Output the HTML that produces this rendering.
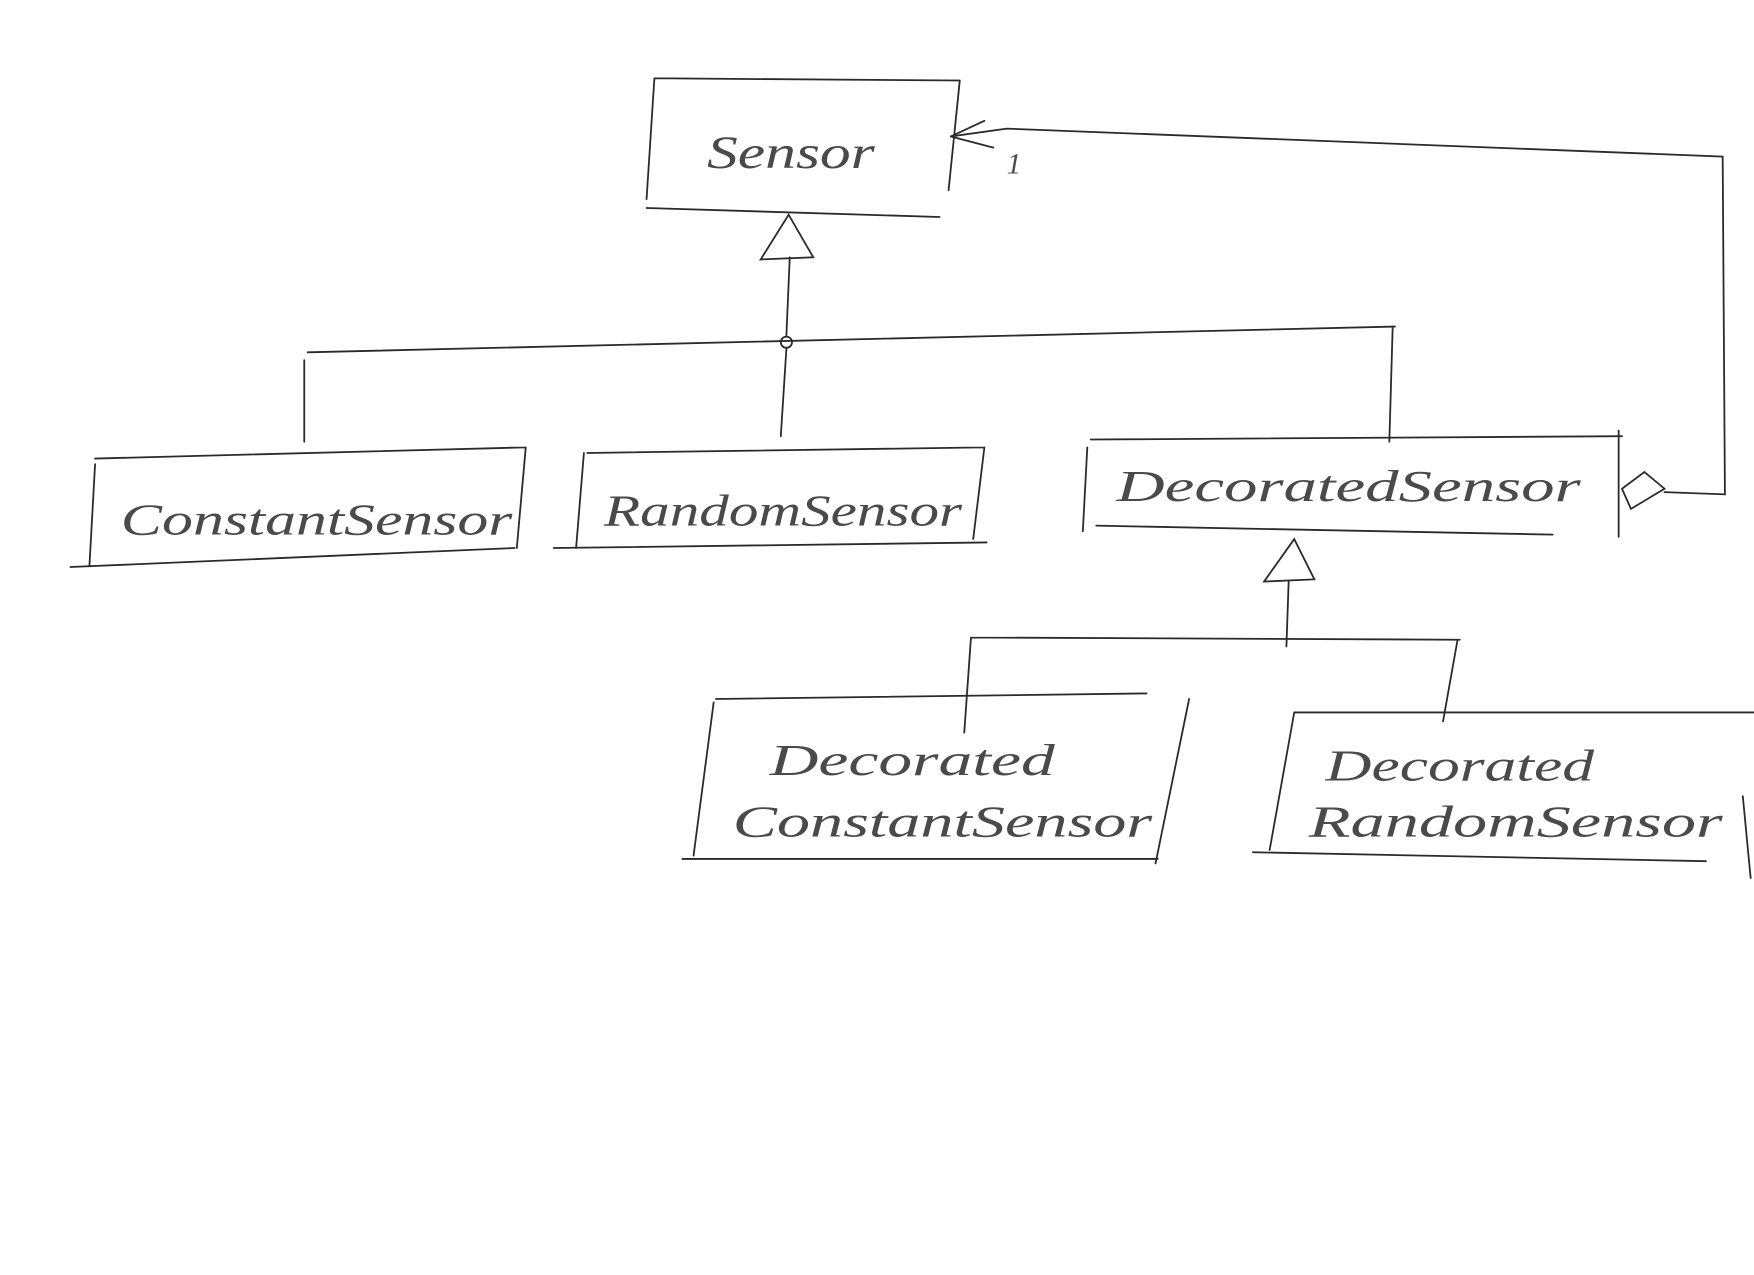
<!DOCTYPE html>
<html><head><meta charset="utf-8"><style>
html,body{margin:0;padding:0;background:#fff;}
svg{display:block}
text{font-family:"Liberation Serif",serif;font-style:italic;fill:#4a4a4a;}
</style></head><body>
<svg width="1754" height="1275" viewBox="0 0 1568 1140" preserveAspectRatio="none" xmlns="http://www.w3.org/2000/svg">
<g fill="none" stroke="#2a2a2a" stroke-width="1.6" stroke-linecap="round">
<path d="M585 70 L858 72 M585 70 L578 178 M578 186 L840 194 M858 72 L848 170"/>
<path d="M705 192 L680 232 L727 230 Z"/>
<path d="M706 230 L703 300"/>
<circle cx="703" cy="306" r="5"/>
<path d="M275 315 L1247 292 M272 322 L272 395 M703 312 L698 390 M1245 292 L1242 395"/>
<path d="M85 410 L470 400 M85 415 L80 505 M63 507 L460 490 M470 400 L462 490"/>
<path d="M525 405 L880 400 M522 405 L515 490 M495 490 L882 485 M880 400 L870 482"/>
<path d="M975 393 L1450 390 M972 400 L968 475 M980 470 L1388 478 M1447 385 L1447 480"/>
<path d="M1450 437 L1470 422 L1488 437 L1458 455 Z"/>
<path d="M1488 440 L1542 442 L1540 140 L900 115 L850 122"/>
<path d="M850 122 L880 108 M850 122 L888 132"/>
<path d="M1157 482 L1130 520 L1175 518 Z"/>
<path d="M1152 520 L1150 578 M868 570 L1305 572 M868 570 L862 655 M1303 572 L1290 645"/>
<path d="M640 625 L1025 620 M638 628 L620 765 M610 768 L1035 768 M1063 625 L1033 772"/>
<path d="M1157 637 L1568 637 M1157 637 L1135 760 M1120 762 L1525 770 M1558 712 L1565 785"/>
</g>
<text x="632" y="150" font-size="42" textLength="150" lengthAdjust="spacingAndGlyphs">Sensor</text>
<text x="900" y="155" font-size="26">1</text>
<text x="108" y="478" font-size="40" textLength="350" lengthAdjust="spacingAndGlyphs">ConstantSensor</text>
<text x="540" y="470" font-size="40" textLength="320" lengthAdjust="spacingAndGlyphs">RandomSensor</text>
<text x="998" y="448" font-size="40" textLength="415" lengthAdjust="spacingAndGlyphs">DecoratedSensor</text>
<text x="688" y="693" font-size="40" textLength="255" lengthAdjust="spacingAndGlyphs">Decorated</text>
<text x="655" y="748" font-size="40" textLength="375" lengthAdjust="spacingAndGlyphs">ConstantSensor</text>
<text x="1185" y="698" font-size="40" textLength="240" lengthAdjust="spacingAndGlyphs">Decorated</text>
<text x="1170" y="748" font-size="40" textLength="370" lengthAdjust="spacingAndGlyphs">RandomSensor</text>
</svg>
</body></html>
